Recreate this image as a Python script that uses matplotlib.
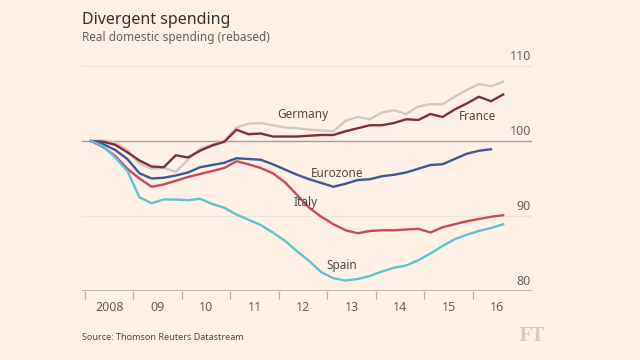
import matplotlib
matplotlib.use("Agg")
import matplotlib.pyplot as plt
import numpy as np

# quarterly index, 2008 Q1 = 100
germany = [100, 100.1, 99.8, 98.8, 97.0, 96.3, 96.4, 95.9, 97.5, 99.0, 99.5, 100.0,
           101.8, 102.3, 102.4, 102.1, 101.8, 101.7, 101.5, 101.4, 101.3, 102.7, 103.2,
           102.9, 103.8, 104.1, 103.6, 104.6, 104.9, 104.9, 105.9, 106.8, 107.6, 107.3, 107.9]
france = [100, 99.9, 99.5, 98.5, 97.4, 96.6, 96.5, 98.1, 97.8, 98.7, 99.4, 99.9,
          101.5, 100.9, 101.0, 100.6, 100.6, 100.6, 100.7, 100.8, 100.8, 101.3, 101.7,
          102.1, 102.1, 102.4, 102.9, 102.8, 103.6, 103.2, 104.2, 105.0, 105.9, 105.3, 106.2]
eurozone = [100, 99.6, 98.8, 97.6, 95.7, 95.0, 95.1, 95.4, 95.8, 96.5, 96.8, 97.1,
            97.7, 97.6, 97.5, 96.9, 96.2, 95.5, 94.9, 94.4, 93.9, 94.3, 94.8,
            94.9, 95.3, 95.5, 95.8, 96.3, 96.8, 96.9, 97.6, 98.3, 98.7, 98.9]
italy = [100, 99.2, 98.0, 96.3, 95.0, 93.9, 94.2, 94.7, 95.2, 95.6, 96.0, 96.4,
         97.3, 96.9, 96.4, 95.7, 94.5, 92.8, 91.1, 89.9, 88.9, 88.1, 87.7,
         88.0, 88.1, 88.1, 88.2, 88.3, 87.8, 88.5, 88.9, 89.3, 89.6, 89.9, 90.1]
spain = [100, 99.3, 97.8, 96.0, 92.5, 91.7, 92.2, 92.2, 92.1, 92.3, 91.6, 91.1,
         90.2, 89.5, 88.8, 87.8, 86.7, 85.3, 84.0, 82.5, 81.7, 81.4, 81.6,
         82.0, 82.6, 83.1, 83.4, 84.1, 85.0, 86.0, 86.9, 87.5, 88.0, 88.4, 88.9]

years = list(range(2008, 2017))
year_labels = ["2008", "09", "10", "11", "12", "13", "14", "15", "16"]
y_ticks = [80, 90, 100, 110]

bg = "#fff1e5"
plt.rcParams['font.family'] = ['Noto Sans', 'DejaVu Sans']


def quarters(n):
    # plot each quarter at its mid point
    return 2008 + (np.arange(n) + 0.5) / 4


fig = plt.figure(figsize=(6.4, 3.6), dpi=100, facecolor=bg)
ax = fig.add_axes([82 / 640, 1 - 291 / 360, 450 / 640, 240 / 360])
ax.set_facecolor(bg)
ax.set_xlim(2007.94, 2017.22)
ax.set_ylim(80, 112)

for v in y_ticks:
    if v == 100:
        ax.axhline(v, color="#a69d95", lw=1.0, zorder=1)
    elif v == 80:
        ax.axhline(v, color="#b5aca3", lw=1.2, zorder=1)
    else:
        ax.axhline(v, color="#e3d6c8", lw=0.9, ls=(0, (1, 1)), zorder=1)
    ax.text(2017.2, v + 0.35, str(v), ha="right", va="bottom", fontsize=9, color="#66605c")

series = [
    (germany, "#d0cac4"),
    (france, "#7d2f3f"),
    (eurozone, "#3d5a98"),
    (italy, "#c94a55"),
    (spain, "#5ec2cf"),
]
for vals, col in series:
    ax.plot(quarters(len(vals)), vals, color=col, lw=1.7, zorder=3,
            solid_joinstyle="round")

labels = [("Germany", 2012.5, 103.5), ("France", 2016.1, 103.3),
          ("Eurozone", 2013.2, 95.7), ("Italy", 2012.55, 91.8), ("Spain", 2013.3, 83.4)]
for name, x, y in labels:
    ax.text(x, y, name, ha="center", va="center", fontsize=8.5, color="#4d4845", zorder=4)

for s in ax.spines.values():
    s.set_visible(False)
ax.set_yticks([])
ax.set_xticks(years)
ax.set_xticklabels([])
ax.set_xticks([y + 0.5 for y in years], minor=True)
ax.set_xticklabels(year_labels, minor=True)
ax.tick_params(axis="x", which="major", length=6, width=0.9, color="#b5aca3")
ax.tick_params(axis="x", which="minor", length=0, pad=7, labelsize=9, labelcolor="#66605c")

fig.text(82 / 640, 1 - 20 / 360, "Divergent spending", fontsize=11.5, color="#33302e",
         ha="left", va="center")
fig.text(82 / 640, 1 - 37 / 360, "Real domestic spending (rebased)", fontsize=8.5,
         color="#66605c", ha="left", va="center")
fig.text(82 / 640, 1 - 338 / 360, "Source: Thomson Reuters Datastream", fontsize=6.5,
         color="#4d4845", ha="left", va="center")
fig.text(544 / 640, 1 - 336 / 360, "FT", fontsize=13, family="DejaVu Serif",
         color="#d6ccc2", ha="right", va="center", weight="bold")

fig.savefig("out.png", dpi=100, facecolor=bg)
